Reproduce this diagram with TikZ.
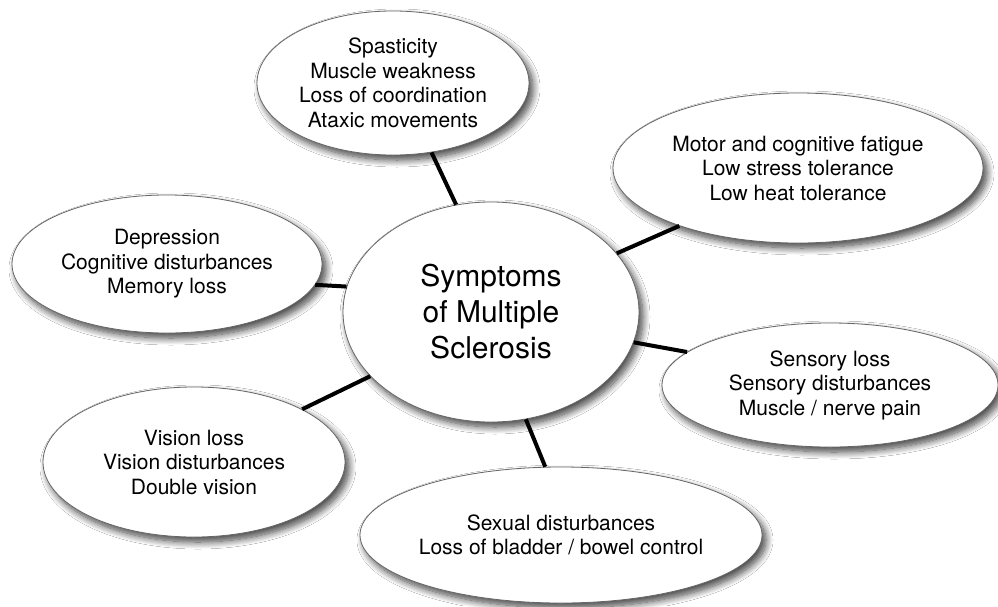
\documentclass[tikz,border=0pt]{standalone}
\usepackage{fontspec}
\setmainfont{TeX Gyre Heros}
\usetikzlibrary{shapes.geometric,shadows.blur}
\begin{document}
\begin{tikzpicture}[x=1pt,y=-1pt,
  bubble/.style={ellipse, draw=black!60, line width=0.8pt, fill=white, inner sep=0pt,
    align=center, font=\fontsize{21}{24.5}\selectfont,
    blur shadow={shadow xshift=4pt, shadow yshift=-5pt, shadow blur steps=12,
      shadow blur radius=7pt, shadow opacity=75}},
  link/.style={line width=4pt, black}]
\useasboundingbox[fill=white] (0,0) rectangle (998,606);
\node[bubble, minimum width=296pt, minimum height=220pt, font=\fontsize{30}{36}\selectfont] (c) at (491,312) {Symptoms\\of Multiple\\Sclerosis};
\node[bubble, minimum width=272pt, minimum height=144pt] (mot) at (393,83) {Spasticity\\Muscle weakness\\Loss of coordination\\Ataxic movements};
\node[bubble, minimum width=370pt, minimum height=150pt] (fat) at (798,168) {Motor and cognitive fatigue\\Low stress tolerance\\Low heat tolerance};
\node[bubble, minimum width=310pt, minimum height=138pt] (dep) at (167,264) {Depression\\Cognitive disturbances\\Memory loss};
\node[bubble, minimum width=336pt, minimum height=124pt] (sen) at (830,385) {Sensory loss\\Sensory disturbances\\Muscle / nerve pain};
\node[bubble, minimum width=302pt, minimum height=150pt] (vis) at (194,462) {Vision loss\\Vision disturbances\\Double vision};
\node[bubble, minimum width=398pt, minimum height=136pt] (sex) at (561,535) {Sexual disturbances\\Loss of bladder / bowel control};
\draw[link] (c.108) -- (mot.299);
\draw[link] (c.25) -- (fat.206);
\draw[link] (c.170) -- (dep.352);
\draw[link] (c.348) -- (sen.167);
\draw[link] (c.208) -- (vis.26);
\draw[link] (c.288) -- (sex.103);
\end{tikzpicture}
\end{document}
